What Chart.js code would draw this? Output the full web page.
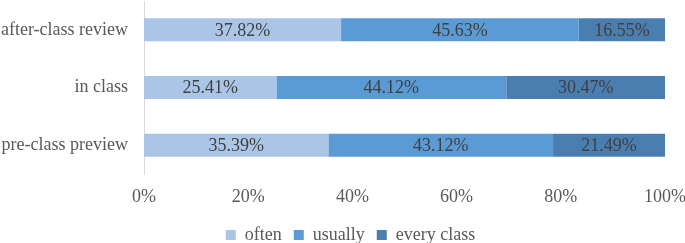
<!DOCTYPE html>
<html>
<head>
<meta charset="utf-8">
<script src="https://cdn.jsdelivr.net/npm/chart.js@4"></script>
<style>
html,body{margin:0;padding:0;background:#fff;}
#wrap{width:685px;height:243px;position:relative;}
</style>
</head>
<body>
<div id="wrap"><canvas id="c" width="685" height="243"></canvas></div>
<script>
const categories = ["after-class review", "in class", "pre-class preview"];
const often = [37.82, 25.41, 35.39];
const usually = [45.63, 44.12, 43.12];
const everyClass = [16.55, 30.47, 21.49];
const seriesNames = ["often", "usually", "every class"];
const xTicks = [0, 20, 40, 60, 80, 100];

const FONT = "'Liberation Serif', 'Times New Roman', serif";

const dataLabels = {
  id: 'dataLabels',
  afterDatasetsDraw(chart) {
    const ctx = chart.ctx;
    ctx.save();
    ctx.font = "18px " + FONT;
    ctx.fillStyle = '#404040';
    ctx.textAlign = 'center';
    ctx.textBaseline = 'middle';
    chart.data.datasets.forEach((ds, di) => {
      const meta = chart.getDatasetMeta(di);
      meta.data.forEach((el, i) => {
        const x = (el.x + el.base) / 2;
        ctx.fillText(ds.data[i].toFixed(2) + '%', x, el.y + 1);
      });
    });
    ctx.restore();
  }
};

const legendShift = {
  id: 'legendShift',
  afterLayout(chart) {
    if (chart.legend) { chart.legend.left += 18; chart.legend.right += 18; }
  }
};

new Chart(document.getElementById('c'), {
  type: 'bar',
  data: {
    labels: categories,
    datasets: [
      { label: seriesNames[0], data: often, backgroundColor: '#abc5e6' },
      { label: seriesNames[1], data: usually, backgroundColor: '#5b9bd5' },
      { label: seriesNames[2], data: everyClass, backgroundColor: '#4a7eb0' }
    ]
  },
  options: {
    indexAxis: 'y',
    responsive: false,
    animation: false,
    devicePixelRatio: 1,
    layout: { padding: { top: 1, right: 20, left: 0, bottom: -11 } },
    datasets: { bar: { barPercentage: 0.4, categoryPercentage: 1.0, borderWidth: 0 } },
    scales: {
      x: {
        stacked: true,
        min: 0, max: 100,
        afterBuildTicks(scale) { scale.ticks = xTicks.map(v => ({ value: v })); },
        grid: { display: false, drawTicks: false },
        border: { display: false },
        ticks: {
          padding: 12,
          color: '#595959',
          font: { family: FONT, size: 18 },
          callback: v => v + '%'
        },
        afterFit(scale) { scale.height = 40; scale.paddingLeft = 0; scale.paddingRight = 0; }
      },
      y: {
        stacked: true,
        grid: { display: false, drawTicks: false },
        border: { display: true, color: '#d9d9d9', width: 1 },
        ticks: {
          padding: 16,
          color: '#595959',
          font: { family: FONT, size: 18 }
        },
        afterFit(scale) { scale.width = 144; scale.paddingTop = 0; scale.paddingBottom = 0; }
      }
    },
    plugins: {
      legend: {
        position: 'bottom',
        labels: {
          boxWidth: 10, boxHeight: 10,
          padding: 12,
          color: '#595959',
          font: { family: FONT, size: 18 }
        }
      },
      tooltip: { enabled: false }
    }
  },
  plugins: [dataLabels, legendShift]
});
</script>
</body>
</html>
